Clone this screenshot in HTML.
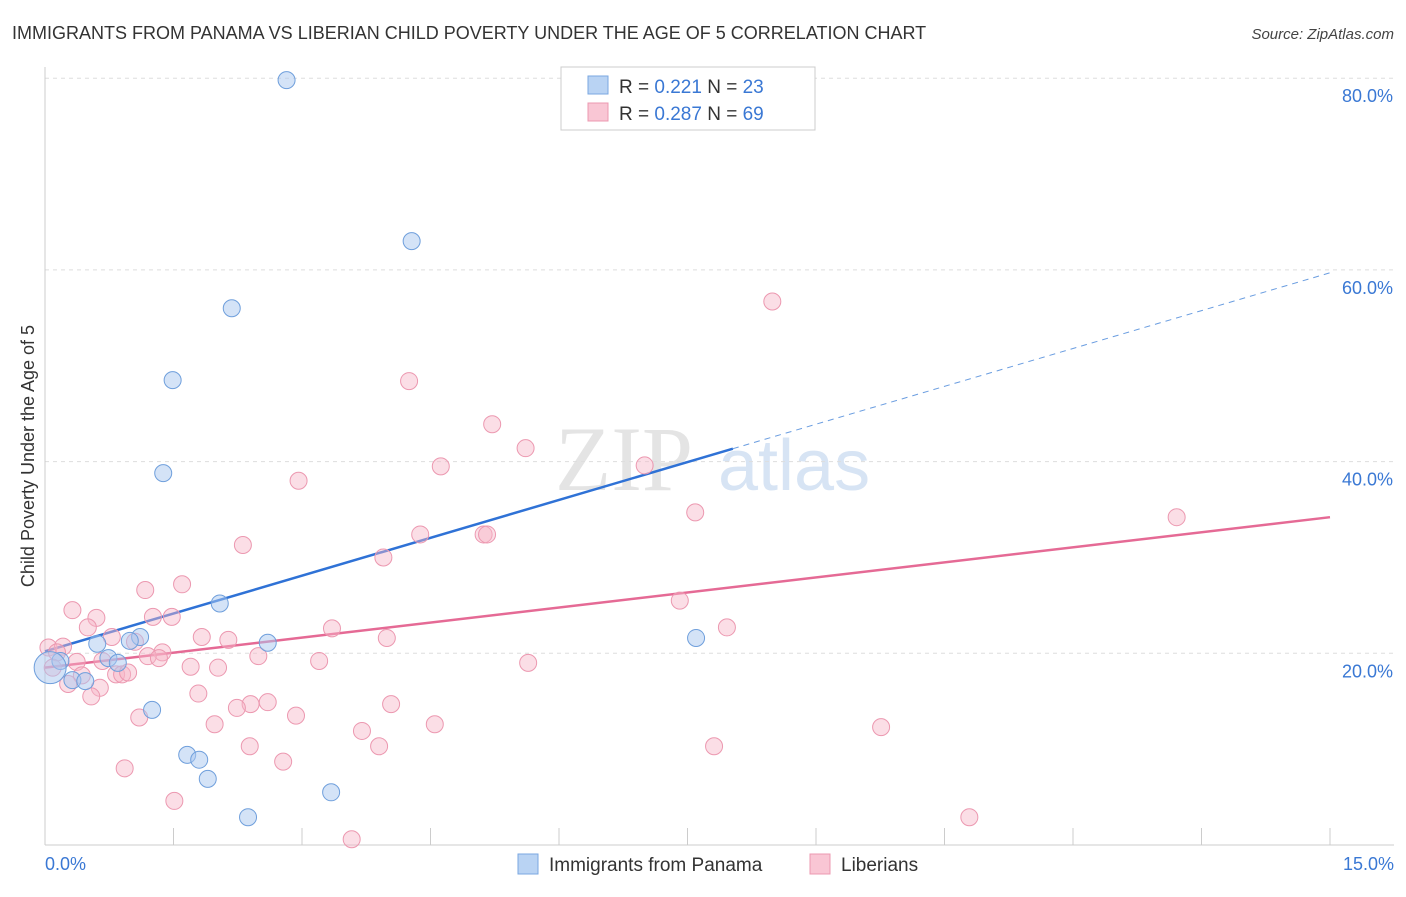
<!DOCTYPE html>
<html><head><meta charset="utf-8"><style>
body{margin:0;background:#fff;font-family:"Liberation Sans",sans-serif;}
</style></head><body>
<svg id="chart" width="1406" height="892" xmlns="http://www.w3.org/2000/svg" font-family="Liberation Sans, sans-serif">
<text x="12" y="39" font-size="18" fill="#333">IMMIGRANTS FROM PANAMA VS LIBERIAN CHILD POVERTY UNDER THE AGE OF 5 CORRELATION CHART</text>
<text x="1394" y="39" font-size="15" fill="#444" text-anchor="end" font-style="italic">Source: ZipAtlas.com</text>
<text x="555" y="490" font-size="92" fill="#e4e4e4" font-family="Liberation Serif, serif">ZIP</text>
<text x="718" y="490" font-size="72" fill="#d7e4f4">atlas</text>
<text transform="translate(34,456) rotate(-90)" font-size="18" fill="#333" text-anchor="middle">Child Poverty Under the Age of 5</text>
<g id="grid"></g><g id="axes"></g><g id="trends"></g><g id="pts"></g>
<g>
<rect x="561" y="67" width="254" height="63" fill="#fff" stroke="#ccc"/>
<rect x="588" y="76" width="20" height="18" fill="#b9d3f3" stroke="#7aa7e0"/>
<rect x="588" y="103" width="20" height="18" fill="#f9c6d4" stroke="#ec98b0"/>
<text x="619" y="93" font-size="19" fill="#333">R = <tspan fill="#3a78d4">0.221</tspan>   N = <tspan fill="#3a78d4">23</tspan></text>
<text x="619" y="120" font-size="19" fill="#333">R = <tspan fill="#3a78d4">0.287</tspan>   N = <tspan fill="#3a78d4">69</tspan></text>
</g>
<g>
<rect x="518" y="854" width="20" height="20" fill="#b9d3f3" stroke="#7aa7e0"/>
<text x="549" y="871" font-size="19" fill="#333">Immigrants from Panama</text>
<rect x="810" y="854" width="20" height="20" fill="#f9c6d4" stroke="#ec98b0"/>
<text x="841" y="871" font-size="19" fill="#333">Liberians</text>
</g>
</svg>
<script>
const xTicksPct=[0,15];
const yTicks=[20,40,60,80];
const blueX=[2.82,4.28,2.18,1.49,1.38,2.04,1.11,0.61,0.99,2.60,0.74,0.85,0.18,0.32,0.47,1.25,1.66,1.80,1.90,3.34,2.37,7.60,0.06];
const blueY=[79.8,63.0,56.0,48.5,38.8,25.2,21.7,21.0,21.3,21.1,19.5,19.0,19.2,17.2,17.1,14.1,9.4,8.9,6.9,5.5,2.9,21.6,18.5];
const pinkX=[8.49,4.25,5.22,5.61,4.62,7.00,2.96,13.21,7.59,4.38,5.12,5.16,2.31,3.95,1.60,1.17,0.32,0.60,1.26,1.48,7.41,0.50,3.35,7.96,0.78,1.83,2.14,3.99,1.05,0.04,0.21,0.14,1.37,1.20,1.33,2.49,3.20,0.37,0.67,5.64,0.09,1.70,2.02,0.43,0.83,0.90,0.97,0.27,0.64,0.54,1.79,2.60,2.40,2.24,4.04,2.93,1.10,1.98,4.55,3.70,9.76,2.39,3.90,7.81,0.93,2.78,1.51,10.79,3.58];
const pinkY=[56.7,48.4,43.9,41.4,39.5,39.6,38.0,34.2,34.7,32.4,32.4,32.4,31.3,30.0,27.2,26.6,24.5,23.7,23.8,23.8,25.5,22.7,22.6,22.7,21.7,21.7,21.4,21.6,21.2,20.6,20.7,20.1,20.1,19.7,19.5,19.7,19.2,19.1,19.2,19.0,18.5,18.6,18.5,17.7,17.8,17.8,18.0,16.8,16.4,15.5,15.8,14.9,14.7,14.3,14.7,13.5,13.3,12.6,12.6,11.9,12.3,10.3,10.3,10.3,8.0,8.7,4.6,2.9,0.6];
const blueTrend=[20.2,59.7]; // value at x=0 and x=15
const pinkTrend=[18.5,34.2];
const blueSolidEnd=8.03;
const NS="http://www.w3.org/2000/svg";
const X=v=>45+v/15*1285, Y=v=>845-v/20*191.7;
function mk(tag,attrs,parent){const e=document.createElementNS(NS,tag);for(const k in attrs)e.setAttribute(k,attrs[k]);document.getElementById(parent).appendChild(e);return e;}
yTicks.forEach(t=>{
 const l=mk('line',{x1:45,x2:1394,y1:Y(t),y2:Y(t),stroke:'#ddd','stroke-dasharray':'4,4'},'grid');
 
 
 const tx=mk('text',{x:1393,y:Y(t)+24,'font-size':18,fill:'#3a78d4','text-anchor':'end'},'grid');
 tx.textContent=t.toFixed(1)+'%';
 
 
});
mk('line',{x1:45,x2:45,y1:67,y2:845,stroke:'#ccc'},'axes');
mk('line',{x1:45,x2:1394,y1:845,y2:845,stroke:'#ccc'},'axes');
for(let i=1;i<=10;i++){mk('line',{x1:X(i*1.5),x2:X(i*1.5),y1:828,y2:845,stroke:'#ccc'},'axes');}
xTicksPct.forEach((t,i)=>{
 const tx=mk('text',{x:i?1394:45,y:870,'font-size':18,fill:'#3a78d4','text-anchor':i?'end':'start'},'axes');
 tx.textContent=t.toFixed(1)+'%';
 
 
});
const bv=x=>blueTrend[0]+(blueTrend[1]-blueTrend[0])*x/15;
const pv=x=>pinkTrend[0]+(pinkTrend[1]-pinkTrend[0])*x/15;
let l1=mk('line',{x1:X(0),y1:Y(bv(0)),x2:X(blueSolidEnd),y2:Y(bv(blueSolidEnd)),stroke:'#2f72d6','stroke-width':2.5},'trends');


let l2=mk('line',{x1:X(blueSolidEnd),y1:Y(bv(blueSolidEnd)),x2:X(15),y2:Y(bv(15)),stroke:'#6a9de0','stroke-width':1,'stroke-dasharray':'6,5'},'trends');


let l3=mk('line',{x1:X(0),y1:Y(pv(0)),x2:X(15),y2:Y(pv(15)),stroke:'#e56a95','stroke-width':2.5},'trends');


pinkX.forEach((x,i)=>{
 const c=mk('circle',{cx:X(x),cy:Y(pinkY[i]),r:8.5,fill:'rgba(246,182,200,0.45)',stroke:'#ec98b0','stroke-width':1},'pts');
 
 
});
blueX.forEach((x,i)=>{
 const big=i===blueX.length-1;
 const c=mk('circle',{cx:X(x),cy:Y(blueY[i]),r:big?16:8.5,fill:'rgba(170,200,240,0.5)',stroke:'#6f9fdc','stroke-width':1},'pts');
 
 
});
</script>
</body></html>
